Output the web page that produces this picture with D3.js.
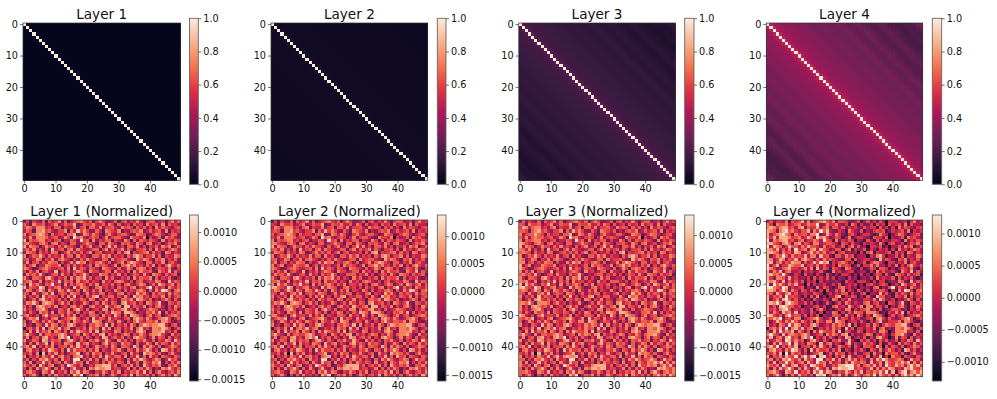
<!DOCTYPE html>
<html>
<head>
<meta charset="utf-8">
<script src="https://cdn.jsdelivr.net/npm/d3@7"></script>
<style>
  html, body { margin: 0; padding: 0; background: #fff; }
  svg { display: block; }
  text { font-family: "DejaVu Sans", sans-serif; fill: #111; }
</style>
</head>
<body>
<div id="chart"></div>
<script>
const WIDTH = 997
const HEIGHT = 399
const N = 50

const topTitles = ["Layer 1", "Layer 2", "Layer 3", "Layer 4"]
const bottomTitles = ["Layer 1 (Normalized)", "Layer 2 (Normalized)", "Layer 3 (Normalized)", "Layer 4 (Normalized)"]
const axisTicks = [0, 10, 20, 30, 40]
const topBarTicks = [0, 0.2, 0.4, 0.6, 0.8, 1]
const bottomBarTicks = [
  [-0.0015, -0.001, -0.0005, 0, 0.0005, 0.001],
  [-0.0015, -0.001, -0.0005, 0, 0.0005, 0.001],
  [-0.0015, -0.001, -0.0005, 0, 0.0005, 0.001],
  [-0.001, -0.0005, 0, 0.0005, 0.001]
]
const bottomDomains = [[-0.00153, 0.00129], [-0.00161, 0.00138], [-0.0016, 0.00136], [-0.0013, 0.00129]]

// rocket colormap stops
const rocketStops = [0, 1/7, 2/7, 3/7, 4/7, 5/7, 6/7, 1]
const rocketColors = ["#03051a", "#35193e", "#701f57", "#ad1759", "#e13342", "#f37651", "#f6b48f", "#faebdd"]

const layer1Profile = [1, .012, .01, .008, .008, .007, .007, .007, .006, .006, .006, .006, .006, .005, .005, .005, .005, .005, .005, .005, .005, .005, .005, .005, .005, .005, .005, .005, .005, .005, .005, .005, .005, .005, .005, .005, .005, .005, .005, .005, .005, .005, .005, .005, .005, .005, .005, .005, .005, .005]
const layer2Profile = [1, .05, .046, .044, .043, .042, .042, .041, .041, .04, .04, .04, .039, .039, .038, .038, .039, .039, .038, .037, .037, .037, .037, .038, .037, .036, .035, .035, .036, .036, .036, .034, .033, .033, .033, .034, .035, .034, .033, .032, .031, .031, .031, .031, .032, .031, .032, .033, .035, .036]
const layer3Profile = [1, .22, .19, .175, .17, .165, .16, .16, .155, .15, .15, .145, .145, .14, .135, .135, .14, .14, .135, .13, .125, .125, .13, .135, .13, .12, .115, .115, .12, .125, .12, .11, .1, .095, .095, .105, .115, .11, .1, .09, .085, .08, .08, .085, .09, .085, .09, .105, .12, .125]
const layer4Profile = [1, .47, .41, .38, .37, .36, .355, .35, .34, .335, .33, .325, .32, .31, .3, .3, .31, .31, .3, .29, .28, .28, .29, .3, .29, .27, .26, .26, .27, .28, .27, .25, .23, .22, .22, .24, .26, .25, .23, .21, .2, .19, .19, .2, .21, .2, .21, .24, .27, .28]

// bottom row: digit per cell, an estimated colour level looked up in normLevels
const normLevels = [-0.0015, -0.0011, -0.0008, -0.00045, -0.00015, 0.00015, 0.00035, 0.0006, 0.0009, 0.0012]

const norm1 = [
"3525436264 5736245675 4625753346 2563547425 6634525746",
"6427556345 7346558236 5574463752 6345264527 4563726453",
"5764777453 6625447356 2664735564 3756526463 5274654356",
"4652778564 3557264857 5336427654 7243565734 6456372545",
"7356787526 4553668237 6475325743 5664237652 3576424663",
"5473777645 6347529674 3565247356 6432755470 5346275643",
"8265677453 5624465395 6273546625 4375263654 6542735465",
"6754367526 7354266345 7542663754 2656437526 7345246573",
"8376524755 3647554263 5734625847 3526647352 5463757246",
"5647353628 4562673754 3466257364 5736425563 6274535764",
"3765264537 6235746463 5725634452 6378254567 3645276354",
"7246585364 5473662745 3266475735 4526478635 5736254476",
"5634762547 3675425364 7543366274 5664328576 4265735463",
"4725635476 6253474867 2546753624 5736875426 6354725643",
"6357244765 5724636453 4627565347 2668574536 4725368546",
"7642356754 4563728465 3654276543 6347526763 5246547325",
"5364725643 8254635764 2755346627 4536274755 6327548364",
"3756484235 6374526458 5243766354 7352465374 2765364562",
"7426653785 3546274768 4635527463 3546274655 7263546324",
"5674372546 4836562745 6354274536 7643525634 5476328465",
"6285743659 4527364675 3647255463 5267435762 4638645736",
"8365497254 6735428476 5236745352 6453672547 9364527546",
"4763586275 3764853627 5364725437 5263546752 6374985267",
"6527436748 2565376524 7354662543 6725438574 2646537465",
"7354628465 5263748352 6478254663 5374286745 3654726356",
"5246378546 4635275465 3762547354 2665738754 6243575263",
"4768527876 3574625347 5246375365 2784563527 6458326546",
"6352787564 7245367463 2674538546 7288365472 5367425375",
"7453678524 3654726853 6245377264 5784526345 7653425463",
"5364275637 2654753625 4762536487 6388752436 5748263546",
"6743526845 5473647254 3665274538 5263876425 7356245675",
"3576824536 7245678534 6284653745 4356278647 5346785246",
"6247536475 3754627547 5387624653 7425368546 6573775324",
"7342653847 6254786345 2657648273 5463752687 6778842563",
"1564738267 5846723546 3756284725 6354726845 3776875246",
"5273846572 7536274865 4738265437 6254537862 3777845362",
"6854273665 5786345627 5364782645 3576254753 6778532745",
"4725637845 3786925463 6425387356 4625378652 4736526354",
"7346528746 5624785364 2657448532 7463526574 3625476385",
"5263745827 4537652846 7354268465 3756426347 5274653746",
"6748253647 2556374853 6247546375 2665386274 7536245764",
"3674526487 5362847556 3647254365 7426537468 6352874635",
"5463708264 7352456824 6375625474 3562745286 7646325743",
"7254637548 3674526783 5264738546 6372548362 7452654365",
"4625376854 6274539925 4736257463 5426375864 3576248563",
"6372548463 5627438562 7345263754 6527346275 4768253647",
"7546285367 2463975462 3547788846 2564736285 4657326574",
"5263746852 6374258436 2768778845 5347263647 5243768546",
"4675327648 3546275847 6325475364 7254657483 6257435647",
"6357415263 7453528691 4657362475 3564827546 3625746385"
]

const norm2 = [
"2525436264 5736245675 4625753346 2563547425 6634525745",
"5427556345 7346558236 5574463752 6345264527 4563726443",
"4764777453 6725447356 2664735564 3756526463 5274654356",
"5652778564 3557264857 5336427654 7243565734 6456372545",
"6356787526 4553668237 6475325743 5664237652 3576424563",
"5473777645 6347529674 3565247356 6432755470 5346275643",
"7265677453 5624465395 6273546625 4375263654 6542735465",
"7754367526 7354266345 7542663754 2656437526 7345246573",
"8376524755 3647554263 5734625847 3526647352 5463757246",
"6647353628 4562673754 3466257364 5736425563 6274535764",
"4765264537 6235746463 5725634452 6378254567 3645276354",
"7246585364 5473662745 3266475735 4526478635 5736254476",
"6634762547 3675425364 7543366274 5664328576 4265735463",
"5725635476 6253474867 2546753624 5736875426 6354725643",
"7357244765 5724636453 4627565347 2668574536 4725368546",
"7642356754 4563728465 3654276543 6347526763 5246547325",
"6364725643 8254635764 2755346627 4536274755 6327548364",
"4756484235 6374526458 5243666354 7352465374 2765364562",
"7426653785 3546274768 4635427463 3546274655 7263546324",
"6674372546 4836562745 6354274536 7643525634 5476328465",
"7285743659 4527364675 3647255463 5267435762 4638645736",
"8865497254 6735428476 5236745352 6453672547 9364527546",
"5763586275 3764853627 5364725437 5263546752 6374985267",
"6527436748 2565376524 7354662543 6725438574 2646537465",
"7354628465 5263748352 6478254663 5374286745 3654726356",
"6246378546 4635275465 3762547354 2665738754 6243575263",
"5768527876 3574625347 5246375365 2784563527 6458326546",
"6352787564 7245367463 2674538546 7288365472 5367425375",
"7453678524 3654726853 6245377264 5784526345 7653425463",
"6364275637 2654753625 4762536487 6388752436 5748263546",
"7743526845 5473647254 3665274538 5263876425 7356245675",
"4576824536 7245678534 6284653745 4356278647 5346785246",
"6247536475 3754627547 5387624653 7425368546 6573775324",
"7342653847 6254786345 2657648273 5463752687 6778842563",
"1564738267 5846723546 3756284725 6354726845 3776875246",
"5273846572 7536274865 4738265437 6254537862 3777845362",
"6854273665 5786345627 5364782645 3576254753 6778532745",
"4725637845 3786925463 6425387356 4625378652 4736526354",
"7346528746 5624785364 2657448532 7463526574 3625476385",
"5263745827 4537652846 7354268465 3756426347 5274653746",
"6748253647 2556374853 6247546375 2665386274 7536245764",
"3674526487 5362847556 3647254365 7426537468 6352874635",
"5463708264 7352456824 6375625474 3562745286 7646325743",
"7254637548 3674526783 5264738546 6372548362 8562654365",
"5625376854 6274539925 4736257463 5426375864 3576248563",
"6372548463 5627438562 7345263754 6527346275 4768253647",
"7546285367 2463975462 3547888846 2564736285 4657326574",
"6263746852 6374258436 2768878845 5347263647 5243768546",
"5675327648 3546275847 6325475364 7254657483 6257435647",
"6357415263 7453528691 4657362475 3564827546 3625746385"
]

const norm3 = [
"3635436264 5736245675 4625753346 2563547425 6634525745",
"6527556345 7346558236 5574463752 6345264527 4563726443",
"5874677453 6725447356 2664735564 3756526463 5274654356",
"6652678564 3557264857 5336427654 6243565734 6456372545",
"7356686526 4553668237 6475325743 4664237652 3576424563",
"6473676645 6347529674 3565247356 5432755470 5346275643",
"7265677453 5624465395 6273546625 3375263654 6542735465",
"8754367526 7354266345 7542663754 2556437526 7345246573",
"8376524755 3647454263 5734625847 3426647352 5463757246",
"7647353628 4562573754 3466257364 5636425563 6274535764",
"6765264537 6235646463 5725634452 5378254567 3645276354",
"7246585364 5473562745 3266475735 4426478635 5736254476",
"7634762547 3675325364 7543366274 5564328576 4265735463",
"7725635476 6253374867 2546753624 4736875426 6354725643",
"8357244765 5724536453 4627565347 2568574536 4725368546",
"8642356754 4563628465 3654276543 6247526763 5246547325",
"7364725643 8254535764 2745346627 4436274755 6327548364",
"6756484235 6374426458 4243566354 6352465374 2765364562",
"7426653785 3546274768 3635327463 3446274655 7263546324",
"7674372546 4836462745 5354274536 6643525634 5476328465",
"8285743659 4527264675 2647255463 4267435762 4638645736",
"8965497254 6735328476 4236745352 5453672547 9364527546",
"6763586275 3764753627 4364725437 4263546752 6374985267",
"6527436748 2565276524 6354662543 5725438574 2646537465",
"7354628465 5263648352 5478254663 4374286745 3654726356",
"6246378546 4635175465 2762547354 2565738754 6243575263",
"7768527776 3574525347 3246375365 2784563527 6458326546",
"7352787564 7245267463 2574538546 7288365472 6367425375",
"7453678524 3654626853 5245377264 5784526345 7653425463",
"6364275637 2654653625 3762536487 6388752436 6748263546",
"8743526845 5473547254 3665274538 5263876425 7356245675",
"6576824536 7245678534 7284653745 4356278647 5346785246",
"6247536475 3754627547 7387624653 7425368546 6573775324",
"7342653847 6254786345 4757648273 5463752687 6778842563",
"2564738267 5846723546 4756284725 6354726845 3776875246",
"5273846572 7536274865 5738265437 6254537862 3777845362",
"6854273665 5786345627 5764782645 3576254753 6778532745",
"4725637845 3786925463 6425387356 4625378652 5736526354",
"7346528746 5624785364 2657448532 7463526574 5625476385",
"5263745827 4537652846 7354268465 3756426347 6274653746",
"6748253647 2556374853 6247546375 2665386274 7536245764",
"3674526487 5362847556 3647254365 7426537468 6352874635",
"5463708264 7352456824 6375625474 3562745286 7646325743",
"7254637548 3684787783 5264738546 6372548362 7562654365",
"6625376854 6274539925 4736257463 5426375864 5686248563",
"7372548463 5627438562 7345263754 6527346275 4768683747",
"7546285367 2463975462 3547888846 2564736285 5767368584",
"6263746852 6374258436 2768878845 5347263647 5343878657",
"6675327648 3546275847 6325475364 7254657483 6268536757",
"6357415263 7453528691 4657362475 3564827546 3636857486"
]

const norm4 = [
"4635547265 6847356786 5736653346 2463536415 5534525745",
"7527667456 7457669347 5574352752 5335264516 4563726443",
"7875788564 7836558467 3664635453 3645526352 5274654356",
"8763789675 4668375968 4335427543 6243565623 5456372545",
"8467897637 5664779348 5475325642 4553237541 3576424563",
"8584888756 7458639785 3465247245 5432655360 4346275643",
"9376788564 6735576496 5273546514 3264263543 5542735465",
"8865478637 8465377456 6542653643 2545437415 6345246573",
"9487635866 4758665374 5634625736 3415546241 4463757246",
"8758464739 5673784865 3466257253 4625425452 5274535764",
"8876375648 7346857574 5625634341 5267254456 2645276354",
"8357696475 6584773856 3266475624 4415478524 4636254476",
"8745873658 4786536475 6543366263 4553328465 3265735463",
"8836746587 7364585978 2546753513 4625775315 5354725643",
"9468355876 6835647464 3527565236 2557474425 3725368546",
"9753467855 4574728465 2654276432 5236526652 4246547325",
"8475836744 5254534632 2745345523 4425274644 5327548364",
"8867595335 4263425326 3242554242 5241465263 2765364562",
"8537764845 3435263536 3524325341 3435274544 6263546324",
"8785483646 4625451534 3343264425 5532525523 4376328465",
"9396854758 4416253453 3536245452 4156435651 3538645736",
"9976598354 5624327365 3236745341 4342672436 9364527546",
"8874697375 3653642516 3364725426 4252546641 5274985267",
"7638547846 3454365413 5354662532 5614438463 2646537465",
"8465739565 4252637241 4478254652 4263286634 2654726356",
"8357489646 3524264354 2762547343 3554738643 5243575263",
"8879638976 4463524236 3246375354 3673563416 5358326546",
"8463898664 5134356352 2674538535 7277365361 4367425375",
"8564789635 4543625742 3245377253 5673526234 6653425463",
"8475386748 3543642514 3762536476 6377752325 4748263546",
"9854637956 6362536143 3665274527 5253876314 6356245675",
"7687935647 7245678534 6284653645 3356278536 4346785246",
"7358647586 4754627547 7387624553 6425368435 5573775324",
"8453764958 7354786345 4757648262 4463752576 5778842563",
"2675849378 5846723546 4756284625 5354726734 3776875246",
"6384957683 7536274865 5738265336 5254537751 3777845362",
"7965384776 5786345627 5764782534 3576254642 5778532745",
"5836748956 3786925463 6425387245 3625378541 3736526354",
"8457639857 5624785364 2657448421 6463526463 4625476385",
"6374856938 4537652846 7354268354 3756426236 4274653746",
"7859364758 2556374853 6247546264 2665386163 6536245764",
"4785637598 5362847556 3647254254 6426537357 5352874635",
"6574819375 6352456824 6375625363 3562745175 6646325743",
"8365748659 4795892894 5264738435 5372548251 7552654365",
"6736487965 7385649936 5847368574 6537486975 5676248563",
"7483659574 6738549673 7456374865 7638457386 5768683747",
"8657396478 3574986573 4658899957 3675847396 5867479685",
"7374857963 7485369547 3879889956 6458374758 7454879657",
"6786438759 4657386958 7436586475 8365768594 8268947868",
"7468526374 8564639892 5768473586 4675938657 4747968597"
]

const bottomRows = [norm1, norm2, norm3, norm4]
const topProfiles = [layer1Profile, layer2Profile, layer3Profile, layer4Profile]

// pixel layout of the four columns and two rows of panels
const panelX = [[23, 180.3], [271, 427.7], [518.7, 675.3], [766.3, 922.7]]
const barX = [[189.5, 198.3], [437.3, 446], [684.7, 694], [932.3, 941.7]]
const rowY = [[23, 180.3], [220, 376.7]]
const barY = [[18.3, 184.3], [215, 381]]

const rocket = d3.scaleLinear().domain(rocketStops).range(rocketColors).interpolate(d3.interpolateRgb)
const cellIdx = d3.range(N)

const svg = d3.select("#chart").append("svg")
  .attr("width", WIDTH)
  .attr("height", HEIGHT)

function drawPanel(cells, domain, title, col, row, ticks, fmt) {
  const x = d3.scaleBand().domain(cellIdx).range(panelX[col])
  const y = d3.scaleBand().domain(cellIdx).range(rowY[row])
  // clamp: the lowest level sits below the layer 4 colorbar range
  const color = d3.scaleLinear().domain(domain).range([0, 1]).clamp(true)
  const g = svg.append("g")

  // crispEdges or the cell seams show up as a light grid
  g.append("g").attr("shape-rendering", "crispEdges").selectAll("rect")
    .data(cells)
    .enter().append("rect")
    .attr("x", d => x(d.c))
    .attr("y", d => y(d.r))
    .attr("width", x.bandwidth() + 0.5)
    .attr("height", y.bandwidth() + 0.5)
    .attr("fill", d => rocket(color(d.v)))

  // frame
  g.append("rect")
    .attr("x", panelX[col][0]).attr("y", rowY[row][0])
    .attr("width", panelX[col][1] - panelX[col][0])
    .attr("height", rowY[row][1] - rowY[row][0])
    .attr("fill", "none").attr("stroke", "#333").attr("stroke-width", 0.7)

  const xAxis = g.append("g")
    .attr("transform", `translate(0,${rowY[row][1]})`)
    .call(d3.axisBottom(x).tickValues(axisTicks).tickSize(3).tickPadding(2))
  const yAxis = g.append("g")
    .attr("transform", `translate(${panelX[col][0]},0)`)
    .call(d3.axisLeft(y).tickValues(axisTicks).tickSize(3).tickPadding(2))
  ;[xAxis, yAxis].forEach(a => {
    a.select(".domain").remove()
    a.selectAll("line").attr("stroke", "#333").attr("stroke-width", 0.7)
    a.selectAll("text").style("font-size", "9.7px").style("font-family", '"DejaVu Sans"').attr("fill", "#111")
  })

  g.append("text")
    .attr("x", (panelX[col][0] + panelX[col][1]) / 2)
    .attr("y", rowY[row][0] - 4.5)
    .attr("text-anchor", "middle")
    .style("font-size", "13.6px")
    .text(title)

  // colorbar
  const barScale = d3.scaleLinear().domain(domain).range([barY[row][1], barY[row][0]])
  const gradId = `grad-${row}-${col}`
  const grad = svg.append("defs").append("linearGradient")
    .attr("id", gradId).attr("x1", 0).attr("x2", 0).attr("y1", 1).attr("y2", 0)
  grad.selectAll("stop")
    .data(rocketStops)
    .enter().append("stop")
    .attr("offset", d => d)
    .attr("stop-color", d => rocket(d))
  g.append("rect")
    .attr("x", barX[col][0]).attr("y", barY[row][0])
    .attr("width", barX[col][1] - barX[col][0])
    .attr("height", barY[row][1] - barY[row][0])
    .attr("fill", `url(#${gradId})`)
    .attr("stroke", "#666").attr("stroke-width", 0.9)

  const barAxis = g.append("g")
    .attr("transform", `translate(${barX[col][1]},0)`)
    .call(d3.axisRight(barScale).tickValues(ticks).tickSize(3).tickPadding(2).tickFormat(fmt))
  barAxis.select(".domain").remove()
  barAxis.selectAll("line").attr("stroke", "#333").attr("stroke-width", 0.7)
  barAxis.selectAll("text").style("font-size", "9.7px").style("font-family", '"DejaVu Sans"').attr("fill", "#111")
}

// minus sign as matplotlib writes it
const fmtNorm = d => (d < 0 ? "\u2212" : "") + d3.format(".4f")(Math.abs(d))
const fmtTop = d3.format(".1f")

topProfiles.forEach((profile, col) => {
  const cells = []
  cellIdx.forEach(r => cellIdx.forEach(c => cells.push({ r, c, v: profile[Math.abs(r - c)] })))
  drawPanel(cells, [0, 1], topTitles[col], col, 0, topBarTicks, fmtTop)
})

bottomRows.forEach((rows, col) => {
  const cells = []
  rows.forEach((line, r) => {
    line.replace(/ /g, "").split("").forEach((ch, c) => cells.push({ r, c, v: normLevels[+ch] }))
  })
  drawPanel(cells, bottomDomains[col], bottomTitles[col], col, 1, bottomBarTicks[col], fmtNorm)
})
</script>
</body>
</html>
